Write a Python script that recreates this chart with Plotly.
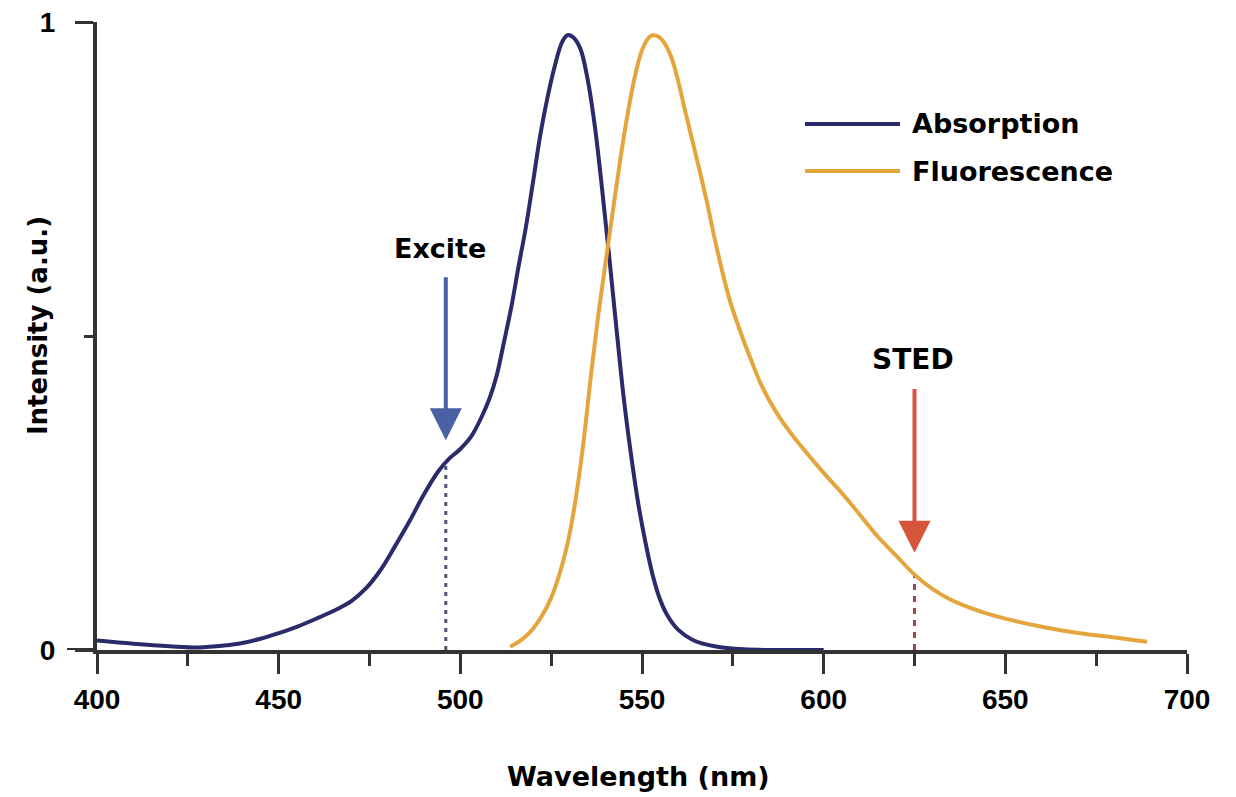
import plotly.graph_objects as go

# ---------------- data ----------------
ABS_NAME = "Absorption"
FLU_NAME = "Fluorescence"

abs_nm = [400, 410, 420, 428, 435, 440, 445, 450, 455, 460, 465, 470, 474, 478,
          482, 486, 490, 494, 497, 500, 503, 506, 508, 510, 512, 514, 516, 518,
          520, 522, 524, 526, 528, 529.5, 531, 533, 535, 537, 539, 541, 543, 545,
          547, 549, 551, 553, 555, 557, 560, 564, 570, 578, 590, 600]
abs_val = [0.015, 0.010, 0.006, 0.004, 0.007, 0.011, 0.018, 0.027, 0.037, 0.049,
           0.062, 0.078, 0.098, 0.127, 0.165, 0.205, 0.248, 0.285, 0.305, 0.320,
           0.340, 0.373, 0.400, 0.437, 0.490, 0.545, 0.610, 0.672, 0.745, 0.820,
           0.880, 0.930, 0.968, 0.979, 0.976, 0.958, 0.910, 0.835, 0.735, 0.625,
           0.510, 0.400, 0.310, 0.232, 0.170, 0.118, 0.080, 0.055, 0.032, 0.016,
           0.006, 0.001, 0.0, 0.0]

flu_nm = [513.7, 516, 518, 520, 522.5, 525, 527.5, 530, 532, 534, 536, 538, 540,
          542, 544, 546, 548, 550, 552, 553, 554.5, 556, 558, 560, 562, 564, 566,
          568, 570, 572, 574, 577, 580, 583, 587, 591, 595, 600, 605, 610, 615,
          620, 625, 630, 635, 640, 645, 650, 660, 670, 680, 689]
flu_val = [0.005, 0.013, 0.022, 0.034, 0.055, 0.083, 0.125, 0.183, 0.250, 0.336,
           0.440, 0.535, 0.618, 0.700, 0.780, 0.852, 0.912, 0.955, 0.976, 0.979,
           0.977, 0.968, 0.945, 0.905, 0.855, 0.808, 0.760, 0.710, 0.655, 0.605,
           0.560, 0.508, 0.462, 0.420, 0.378, 0.345, 0.316, 0.282, 0.250, 0.215,
           0.180, 0.150, 0.120, 0.097, 0.080, 0.068, 0.058, 0.050, 0.037, 0.027,
           0.020, 0.013]

EXCITE_LABEL = "Excite"
EXCITE_NM = 496
EXCITE_CURVE = 0.300
EXCITE_ARROW = [0.596, 0.334]   # tail, tip
EXCITE_LABEL_Y = 0.640

STED_LABEL = "STED"
STED_NM = 625
STED_CURVE = 0.118
STED_ARROW = [0.418, 0.155]
STED_LABEL_Y = 0.462

x_ticks = [400, 450, 500, 550, 600, 650, 700]
x_minor = [425, 475, 525, 575, 625, 675]
y_ticks = [0, 1]
y_ticktext = ["0", "1"]
y_minor = [0.5]
X_TITLE = "Wavelength (nm)"
Y_TITLE = "Intensity (a.u.)"

# ---------------- style ----------------
NUM_FONT = "Liberation Sans, Arial, sans-serif"
TXT_FONT = "DejaVu Sans, Verdana, sans-serif"
ABS_COLOR = "#2b2a6b"
FLU_COLOR = "#e3a53c"
EXC_COLOR = "#4a62a3"
EXC_DOT = "#4d5570"
STED_COLOR = "#d5553a"
STED_DOT = "#9c4a44"
AXIS_COLOR = "#333333"

fig = go.Figure()

fig.add_trace(go.Scatter(x=[EXCITE_NM, EXCITE_NM], y=[0, EXCITE_CURVE], mode="lines",
                         line=dict(color=EXC_DOT, width=3, dash="4px,5px"), showlegend=False))
fig.add_trace(go.Scatter(x=[STED_NM, STED_NM], y=[0, STED_CURVE], mode="lines",
                         line=dict(color=STED_DOT, width=3, dash="6px,6px"), showlegend=False))

fig.add_trace(go.Scatter(x=abs_nm, y=abs_val, name=ABS_NAME, mode="lines",
                         line=dict(color=ABS_COLOR, width=4, shape="spline", smoothing=1.0),
                         showlegend=False))
fig.add_trace(go.Scatter(x=flu_nm, y=flu_val, name=FLU_NAME, mode="lines",
                         line=dict(color=FLU_COLOR, width=4, shape="spline", smoothing=1.0),
                         showlegend=False))

# arrows
for nm, (tail, tip), col in [(EXCITE_NM, EXCITE_ARROW, EXC_COLOR), (STED_NM, STED_ARROW, STED_COLOR)]:
    fig.add_annotation(x=nm, y=tip, ax=nm, ay=tail, xref="x", yref="y", axref="x", ayref="y",
                       text="", showarrow=True, arrowhead=2, arrowsize=1.6, arrowwidth=4,
                       arrowcolor=col, standoff=0)

fig.add_annotation(x=EXCITE_NM, y=EXCITE_LABEL_Y, text=EXCITE_LABEL, showarrow=False,
                   xref="x", yref="y", xshift=-6,
                   font=dict(family=TXT_FONT, size=27, color="black", weight="bold"))
fig.add_annotation(x=STED_NM, y=STED_LABEL_Y, text=STED_LABEL, showarrow=False,
                   xref="x", yref="y", xshift=-2,
                   font=dict(family=TXT_FONT, size=28, color="black", weight="bold"))

# custom legend
legend_items = [(ABS_NAME, ABS_COLOR, 0.8376), (FLU_NAME, FLU_COLOR, 0.7627)]
for name, col, yy in legend_items:
    fig.add_shape(type="line", xref="paper", yref="paper", x0=0.6495, x1=0.7367, y0=yy, y1=yy,
                  line=dict(color=col, width=4))
    fig.add_annotation(x=0.7459, y=yy, xref="paper", yref="paper", text=name, showarrow=False,
                       xanchor="left", yanchor="middle",
                       font=dict(family=TXT_FONT, size=27, color="black", weight="bold"))

# axis titles
fig.add_annotation(x=0.497, y=-0.202, xref="paper", yref="paper", text=X_TITLE,
                   showarrow=False, xanchor="center", yanchor="middle",
                   font=dict(family=TXT_FONT, size=27, color="black", weight="bold"))
fig.add_annotation(x=-0.054, y=0.516, xref="paper", yref="paper", text=Y_TITLE,
                   showarrow=False, xanchor="center", yanchor="middle", textangle=-90,
                   font=dict(family=TXT_FONT, size=26, color="black", weight="bold"))

# extended zero tick on the y axis
fig.add_shape(type="line", xref="paper", yref="y", x0=-0.0275, x1=0, y0=0, y1=0,
              line=dict(color=AXIS_COLOR, width=4))

# the page body adds an 8px offset, so the figure is sized to fit the window
fig.update_layout(
    width=1228, height=789,
    margin=dict(l=89, r=49, t=14, b=147, autoexpand=False),
    paper_bgcolor="white", plot_bgcolor="white",
    font=dict(family=NUM_FONT, color="black"),
)

fig.update_xaxes(
    range=[400, 700], tickvals=x_ticks, ticks="outside", ticklen=20, tickwidth=3,
    tickcolor=AXIS_COLOR, showline=True, linecolor=AXIS_COLOR, linewidth=4,
    showgrid=False, zeroline=False, ticklabelstandoff=1, automargin=False,
    ticklabeloverflow="allow", layer="below traces",
    tickfont=dict(family=NUM_FONT, size=28, color="black", weight="bold"),
    minor=dict(tickvals=x_minor, ticks="outside", ticklen=12,
               tickwidth=3, tickcolor=AXIS_COLOR, showgrid=False),
)
fig.update_yaxes(
    range=[0, 1], tickvals=y_ticks, ticktext=y_ticktext, ticks="outside", ticklen=18,
    tickwidth=3, tickcolor=AXIS_COLOR, showline=True, linecolor=AXIS_COLOR, linewidth=4,
    showgrid=False, zeroline=False, ticklabelstandoff=14, automargin=False,
    ticklabeloverflow="allow", layer="below traces",
    tickfont=dict(family=NUM_FONT, size=28, color="black", weight="bold"),
    minor=dict(tickvals=y_minor, ticks="outside", ticklen=9, tickwidth=3,
               tickcolor=AXIS_COLOR, showgrid=False),
)

fig.write_html("out.html")
